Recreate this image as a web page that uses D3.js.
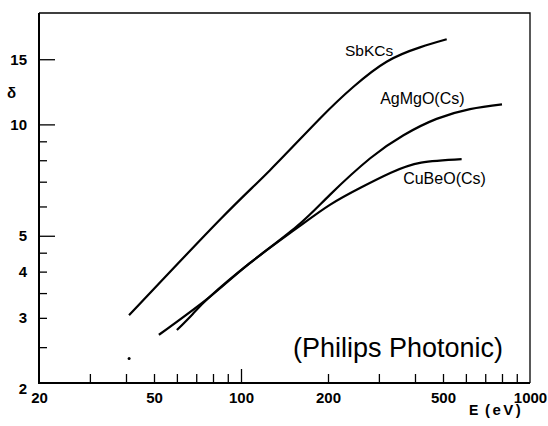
<!DOCTYPE html>
<meta charset="utf-8">
<title>delta vs E</title>
<style>
body { margin: 0; background: #fff; }
svg { display: block; font-family: "Liberation Sans", Arial, sans-serif; }
.tick text { font-weight: bold; font-size: 15px; fill: #000; }
.tick line { stroke: #000; stroke-width: 1.3; }
.curve { fill: none; stroke: #000; stroke-width: 2.2; }
</style>
<script src="https://cdnjs.cloudflare.com/ajax/libs/d3/7.8.5/d3.min.js"></script>
<body>
<script>
var width = 548, height = 426;

// curves: E (eV) and delta
var sbkcsE   = [41, 85, 126, 188, 245, 319, 416, 515];
var sbkcsD   = [3.05, 5.55, 7.52, 10.39, 12.64, 14.77, 16.15, 16.98];
var agmgoE   = [60, 68, 78, 107, 156, 203, 280, 365, 475, 620, 800];
var agmgoD   = [2.78, 3.07, 3.42, 4.21, 5.3, 6.45, 8.1, 9.35, 10.35, 11.0, 11.33];
var cubeoE   = [52, 78, 107, 156, 203, 260, 330, 420, 580];
var cubeoD   = [2.70, 3.42, 4.21, 5.24, 6.06, 6.75, 7.4, 7.88, 8.06];
var strayE   = [41];
var strayD   = [2.33];

var xLabels  = [20, 50, 100, 200, 500, 1000];
var xMinor   = [30, 40, 50, 60, 70, 80, 90, 200, 300, 400, 500, 600, 700, 800, 900];
var xMajor   = [100];
var yLabels  = [2, 3, 4, 5, 10, 15];
var yMinor   = [2.5, 3, 3.5, 4, 4.5, 6, 7, 8, 9];
var yMajor   = [5, 10, 15];

var x = d3.scaleLog().domain([20, 1000]).range([39, 530]);
var y = d3.scaleLog().domain([2, 20]).range([383, 13]);

var svg = d3.select("body").append("svg")
    .attr("width", width)
    .attr("height", height);

// inner ticks
function ticks(axis, vals, size) {
  return axis.tickValues(vals).tickSize(-size).tickSizeOuter(0).tickFormat("");
}
[[xMinor, 9], [xMajor, 14]].forEach(function(t) {
  var g = svg.append("g").attr("transform", "translate(0," + y(2) + ")")
      .call(ticks(d3.axisBottom(x), t[0], t[1]));
  g.select(".domain").remove();
});
[[yMinor, 8], [yMajor, 16]].forEach(function(t) {
  var g = svg.append("g").attr("transform", "translate(" + x(20) + ",0)")
      .call(ticks(d3.axisLeft(y), t[0], t[1]));
  g.select(".domain").remove();
});

// labels
var xl = svg.append("g").attr("transform", "translate(0," + y(2) + ")")
    .call(d3.axisBottom(x).tickValues(xLabels).tickSize(0).tickPadding(9).tickFormat(d3.format("d")));
xl.select(".domain").remove();

var yl = svg.append("g").attr("transform", "translate(" + x(20) + ",0)")
    .call(d3.axisLeft(y).tickValues(yLabels).tickSize(0).tickPadding(12).tickFormat(d3.format("d")));
yl.select(".domain").remove();
yl.selectAll("text").filter(function(d) { return d === 2; }).attr("dy", "0.7em");

// frame
svg.append("path")
    .attr("d", "M" + x(20) + "," + y(20) + "H" + x(1000) + "V" + y(2))
    .attr("fill", "none").attr("stroke", "#000").attr("stroke-width", 1.3);
svg.append("path")
    .attr("d", "M" + x(20) + "," + y(20) + "V" + y(2) + "H" + x(1000))
    .attr("fill", "none").attr("stroke", "#000").attr("stroke-width", 2);

// curves
var line = d3.line()
    .x(function(d) { return x(d[0]); })
    .y(function(d) { return y(d[1]); })
    .curve(d3.curveNatural);

[[sbkcsE, sbkcsD], [agmgoE, agmgoD], [cubeoE, cubeoD]].forEach(function(s) {
  svg.append("path")
      .attr("class", "curve")
      .attr("d", line(d3.zip(s[0], s[1])));
});

svg.selectAll("circle.stray")
    .data(d3.zip(strayE, strayD))
  .enter().append("circle")
    .attr("class", "stray")
    .attr("cx", function(d) { return x(d[0]); })
    .attr("cy", function(d) { return y(d[1]); })
    .attr("r", 1.5);

// curve names
var names = [
  {t: "SbKCs", E: 229, d: 15.3, s: 15.5},
  {t: "AgMgO(Cs)", E: 303, d: 11.35, s: 16},
  {t: "CuBeO(Cs)", E: 364, d: 6.9, s: 16}
];
svg.selectAll("text.name")
    .data(names)
  .enter().append("text")
    .attr("class", "name")
    .attr("x", function(d) { return x(d.E); })
    .attr("y", function(d) { return y(d.d); })
    .style("font-size", function(d) { return d.s + "px"; })
    .text(function(d) { return d.t; });

svg.append("text")
    .attr("x", 7).attr("y", 98)
    .style("font-size", "15px").style("font-weight", "bold")
    .text("δ");

svg.append("text")
    .attr("x", 469).attr("y", 415)
    .style("font-size", "14px").style("font-weight", "bold")
    .text("E");
svg.append("text")
    .attr("x", 485).attr("y", 415)
    .style("font-size", "15px").style("font-weight", "bold")
    .style("letter-spacing", "2.5px")
    .text("(eV)");

svg.append("text")
    .attr("x", 293).attr("y", 357)
    .style("font-size", "27px")
    .text("(Philips Photonic)");
</script>
</body>
